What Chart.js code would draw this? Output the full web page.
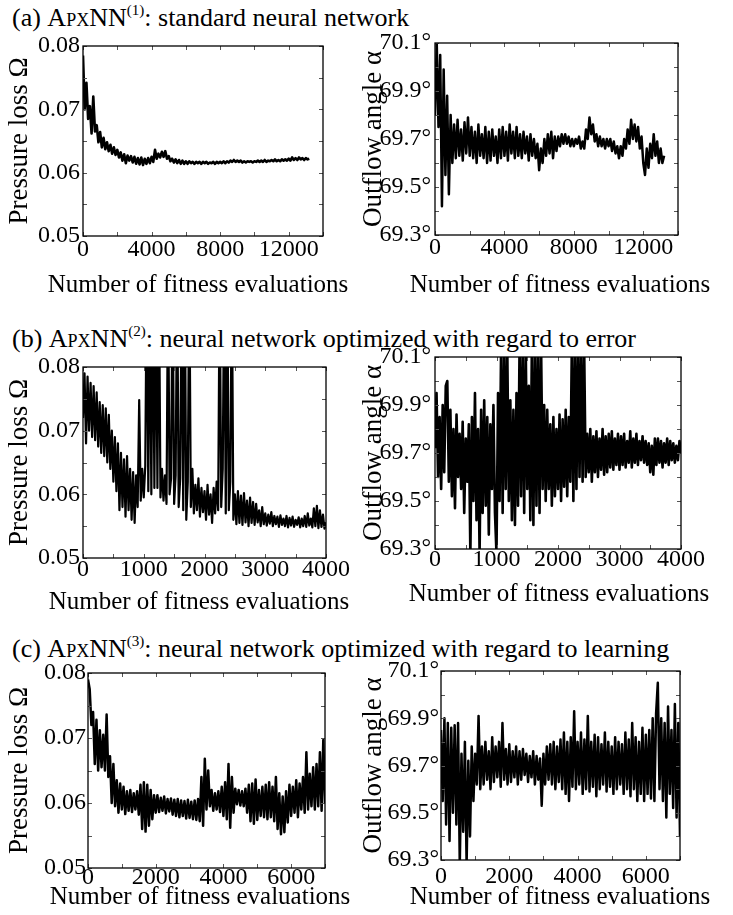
<!DOCTYPE html>
<html>
<head>
<meta charset="utf-8">
<script src="https://cdn.jsdelivr.net/npm/chart.js@4.4.0/dist/chart.umd.min.js"></script>
<style>
  html, body { margin: 0; padding: 0; background: #fff; }
  body { width: 733px; height: 915px; position: relative; overflow: hidden; font-family: 'Liberation Serif', serif; color: #000; }
  .row-title { position: absolute; left: 12px; font-size: 26px; line-height: 24px; white-space: nowrap; }
  .sc { font-variant: small-caps; }
  .sup { font-size: 0.58em; position: relative; top: -0.7em; }
  canvas { position: absolute; }
</style>
</head>
<body>
<div class="row-title" style="top:6px">(a) <span class="sc">ApxNN</span><span class="sup">(1)</span>: standard neural network</div>
<div class="row-title" style="top:327px">(b) <span class="sc">ApxNN</span><span class="sup">(2)</span>: neural network optimized with regard to error</div>
<div class="row-title" style="top:637px">(c) <span class="sc">ApxNN</span><span class="sup">(3)</span>: neural network optimized with regard to learning</div>

<canvas id="lossA"></canvas>
<canvas id="angleA"></canvas>
<canvas id="lossB"></canvas>
<canvas id="angleB"></canvas>
<canvas id="lossC"></canvas>
<canvas id="angleC"></canvas>

<script>
// sampling interval (fitness evaluations) of each run
const stepA = 100;
const stepB = 25;
const stepC = 50;

// (a) standard network
const lossA = [
  0.0785, 0.0700, 0.0742, 0.0685, 0.0705, 0.0662, 0.0720, 0.0665, 0.0675, 0.0648,
  0.0664, 0.0640, 0.0655, 0.0637, 0.0648, 0.0634, 0.0644, 0.0630, 0.0640, 0.0628,
  0.0636, 0.0624, 0.0632, 0.0619, 0.0629, 0.0615, 0.0627, 0.0619, 0.0626, 0.0616,
  0.0625, 0.0614, 0.0623, 0.0613, 0.0624, 0.0612, 0.0622, 0.0614, 0.0623, 0.0615,
  0.0625, 0.0617, 0.0636, 0.0622, 0.0630, 0.0624, 0.0633, 0.0625, 0.0634, 0.0622,
  0.0626, 0.0618, 0.0622, 0.0616, 0.0621, 0.0615, 0.0620, 0.0614, 0.0619, 0.0614,
  0.0618, 0.0614, 0.0618, 0.0615, 0.0617, 0.0614, 0.0617, 0.0615, 0.0617, 0.0614,
  0.0617, 0.0615, 0.0617, 0.0614, 0.0616, 0.0615, 0.0617, 0.0614, 0.0617, 0.0615,
  0.0617, 0.0615, 0.0618, 0.0615, 0.0618, 0.0616, 0.0619, 0.0617, 0.0620, 0.0617,
  0.0619, 0.0617, 0.0619, 0.0616, 0.0618, 0.0616, 0.0618, 0.0617, 0.0618, 0.0616,
  0.0618, 0.0617, 0.0619, 0.0617, 0.0619, 0.0617, 0.0620, 0.0617, 0.0619, 0.0618,
  0.0620, 0.0618, 0.0621, 0.0618, 0.0620, 0.0618, 0.0621, 0.0619, 0.0621, 0.0619,
  0.0622, 0.0619, 0.0624, 0.0620, 0.0623, 0.0620, 0.0624, 0.0621, 0.0623, 0.0620,
  0.0623, 0.0621, 0.0622
];
const angleA = [
  69.80, 70.10, 69.75, 70.05, 69.42, 69.99, 69.55, 69.88, 69.47, 69.80,
  69.60, 69.76, 69.62, 69.78, 69.63, 69.74, 69.61, 69.77, 69.64, 69.79,
  69.63, 69.75, 69.62, 69.73, 69.60, 69.76, 69.63, 69.72, 69.62, 69.75,
  69.60, 69.73, 69.61, 69.74, 69.63, 69.71, 69.60, 69.74, 69.62, 69.75,
  69.63, 69.73, 69.61, 69.76, 69.64, 69.73, 69.62, 69.75, 69.63, 69.72,
  69.62, 69.73, 69.64, 69.71, 69.61, 69.72, 69.63, 69.70, 69.62, 69.68,
  69.57, 69.66, 69.60, 69.70, 69.63, 69.72, 69.64, 69.73, 69.62, 69.71,
  69.65, 69.71, 69.67, 69.72, 69.68, 69.72, 69.68, 69.71, 69.67, 69.70,
  69.67, 69.70, 69.68, 69.71, 69.66, 69.69, 69.66, 69.74, 69.70, 69.79,
  69.72, 69.76, 69.69, 69.72, 69.67, 69.71, 69.67, 69.70, 69.66, 69.70,
  69.67, 69.70, 69.65, 69.69, 69.64, 69.67, 69.62, 69.67, 69.63, 69.70,
  69.66, 69.74, 69.68, 69.78, 69.70, 69.76, 69.69, 69.75, 69.66, 69.71,
  69.60, 69.55, 69.66, 69.58, 69.68, 69.62, 69.72, 69.63, 69.69, 69.60,
  69.66, 69.60, 69.63
];

// (b) optimized with regard to error
const lossB = [
  0.0720, 0.0790, 0.0680, 0.0785, 0.0700, 0.0775, 0.0690, 0.0770,
  0.0685, 0.0760, 0.0675, 0.0745, 0.0665, 0.0740, 0.0660, 0.0735,
  0.0650, 0.0725, 0.0640, 0.0700, 0.0620, 0.0690, 0.0605, 0.0680,
  0.0575, 0.0665, 0.0580, 0.0655, 0.0565, 0.0660, 0.0575, 0.0640,
  0.0560, 0.0635, 0.0555, 0.0630, 0.0580, 0.0748, 0.0590, 0.0640,
  0.0595, 0.0645, 0.0950, 0.0605, 0.0950, 0.0600, 0.0950, 0.0610,
  0.0950, 0.0610, 0.0950, 0.0595, 0.0640, 0.0590, 0.0630, 0.0585,
  0.0950, 0.0600, 0.0625, 0.0950, 0.0585, 0.0630, 0.0950, 0.0580,
  0.0625, 0.0950, 0.0575, 0.0950, 0.0560, 0.0620, 0.0950, 0.0580,
  0.0640, 0.0570, 0.0615, 0.0575, 0.0625, 0.0565, 0.0610, 0.0572,
  0.0605, 0.0560, 0.0615, 0.0568, 0.0600, 0.0555, 0.0610, 0.0570,
  0.0620, 0.0575, 0.0950, 0.0580, 0.0640, 0.0950, 0.0570, 0.0950,
  0.0575, 0.0620, 0.0950, 0.0560, 0.0600, 0.0553, 0.0605, 0.0555,
  0.0598, 0.0552, 0.0602, 0.0556, 0.0590, 0.0550, 0.0595, 0.0555,
  0.0588, 0.0552, 0.0585, 0.0556, 0.0575, 0.0550, 0.0580, 0.0553,
  0.0570, 0.0551, 0.0568, 0.0554, 0.0572, 0.0550, 0.0566, 0.0553,
  0.0565, 0.0549, 0.0567, 0.0552, 0.0562, 0.0550, 0.0566, 0.0548,
  0.0563, 0.0551, 0.0565, 0.0549, 0.0560, 0.0552, 0.0564, 0.0548,
  0.0562, 0.0550, 0.0566, 0.0549, 0.0570, 0.0551, 0.0562, 0.0548,
  0.0578, 0.0550, 0.0582, 0.0547, 0.0575, 0.0549, 0.0568, 0.0546,
  0.0556
];
const angleB = [
  69.72, 69.95, 69.60, 69.85, 69.55, 69.90, 69.62, 69.98,
  70.00, 69.58, 69.88, 69.52, 69.80, 69.47, 69.86, 69.60,
  69.78, 69.55, 69.83, 69.45, 69.76, 69.58, 69.82, 69.28,
  69.85, 69.50, 69.95, 69.42, 69.80, 69.28, 69.88, 69.45,
  69.92, 69.48, 69.85, 69.36, 69.82, 69.55, 69.90, 69.45,
  69.28, 69.95, 69.50, 70.15, 69.45, 70.15, 69.55, 70.15,
  69.50, 69.92, 69.42, 69.88, 69.40, 69.95, 69.48, 70.15,
  69.52, 70.15, 69.45, 70.15, 69.55, 69.98, 69.42, 70.15,
  69.40, 70.15, 69.48, 70.15, 69.45, 70.15, 69.55, 69.90,
  69.50, 69.88, 69.55, 69.82, 69.48, 69.85, 69.52, 69.80,
  69.55, 69.86, 69.50, 69.84, 69.56, 69.88, 69.52, 69.85,
  69.58, 70.15, 69.50, 70.15, 69.55, 70.15, 69.60, 70.15,
  69.58, 70.15, 69.60, 69.78, 69.62, 69.80, 69.58, 69.77,
  69.62, 69.79, 69.60, 69.76, 69.63, 69.80, 69.61, 69.77,
  69.62, 69.78, 69.64, 69.79, 69.63, 69.76, 69.65, 69.78,
  69.63, 69.77, 69.65, 69.78, 69.64, 69.75, 69.66, 69.79,
  69.64, 69.76, 69.66, 69.78, 69.65, 69.75, 69.67, 69.77,
  69.66, 69.75, 69.65, 69.74, 69.62, 69.73, 69.61, 69.76,
  69.65, 69.76, 69.66, 69.75, 69.64, 69.74, 69.66, 69.76,
  69.65, 69.75, 69.67, 69.74, 69.66, 69.73, 69.67, 69.75,
  69.70
];

// (c) optimized with regard to learning
const lossC = [
  0.0790, 0.0775, 0.0720, 0.0740, 0.0660, 0.0728, 0.0650, 0.0712,
  0.0655, 0.0705, 0.0650, 0.0736, 0.0640, 0.0672, 0.0600, 0.0660,
  0.0595, 0.0635, 0.0585, 0.0630, 0.0590, 0.0625, 0.0583, 0.0618,
  0.0588, 0.0620, 0.0586, 0.0615, 0.0590, 0.0618, 0.0582, 0.0628,
  0.0560, 0.0632, 0.0556, 0.0628, 0.0565, 0.0620, 0.0575, 0.0612,
  0.0585, 0.0612, 0.0586, 0.0608, 0.0588, 0.0610, 0.0584, 0.0606,
  0.0587, 0.0607, 0.0582, 0.0605, 0.0580, 0.0606, 0.0578, 0.0604,
  0.0580, 0.0603, 0.0576, 0.0605, 0.0577, 0.0602, 0.0575, 0.0604,
  0.0574, 0.0606, 0.0572, 0.0640, 0.0565, 0.0668, 0.0590, 0.0650,
  0.0595, 0.0620, 0.0588, 0.0615, 0.0590, 0.0618, 0.0586, 0.0625,
  0.0580, 0.0632, 0.0575, 0.0660, 0.0562, 0.0640, 0.0585, 0.0622,
  0.0598, 0.0620, 0.0596, 0.0618, 0.0595, 0.0622, 0.0585, 0.0628,
  0.0572, 0.0630, 0.0568, 0.0636, 0.0574, 0.0620, 0.0580, 0.0625,
  0.0578, 0.0628, 0.0575, 0.0632, 0.0578, 0.0625, 0.0572, 0.0640,
  0.0560, 0.0615, 0.0552, 0.0610, 0.0555, 0.0618, 0.0570, 0.0628,
  0.0580, 0.0625, 0.0585, 0.0635, 0.0578, 0.0630, 0.0590, 0.0640,
  0.0585, 0.0678, 0.0590, 0.0645, 0.0595, 0.0655, 0.0590, 0.0660,
  0.0595, 0.0678, 0.0588, 0.0697, 0.0600
];
const angleC = [
  69.85, 69.55, 69.90, 69.45, 69.88, 69.38, 69.86, 69.50,
  69.87, 69.45, 69.88, 69.28, 69.75, 69.42, 69.80, 69.28,
  69.72, 69.40, 69.78, 69.55, 69.75, 69.62, 69.91, 69.60,
  69.78, 69.62, 69.80, 69.64, 69.76, 69.60, 69.82, 69.63,
  69.78, 69.65, 69.80, 69.61, 69.88, 69.64, 69.77, 69.62,
  69.79, 69.63, 69.76, 69.65, 69.78, 69.62, 69.76, 69.64,
  69.77, 69.66, 69.75, 69.63, 69.74, 69.65, 69.76, 69.62,
  69.74, 69.64, 69.73, 69.53, 69.75, 69.62, 69.78, 69.64,
  69.79, 69.62, 69.80, 69.60, 69.78, 69.63, 69.81, 69.60,
  69.84, 69.58, 69.80, 69.55, 69.82, 69.61, 69.93, 69.60,
  69.80, 69.62, 69.84, 69.58, 69.81, 69.60, 69.91, 69.59,
  69.80, 69.61, 69.83, 69.57, 69.82, 69.60, 69.79, 69.62,
  69.84, 69.59, 69.80, 69.61, 69.78, 69.58, 69.82, 69.60,
  69.80, 69.62, 69.79, 69.58, 69.84, 69.60, 69.81, 69.57,
  69.88, 69.60, 69.82, 69.55, 69.80, 69.58, 69.86, 69.55,
  69.83, 69.58, 69.85, 69.56, 69.90, 69.55, 69.92, 70.05,
  69.60, 69.90, 69.55, 69.88, 69.48, 69.95, 69.58, 69.85,
  69.52, 69.96, 69.48, 69.88, 69.40
];

// labelled ticks
const lossLabels = [0.05, 0.06, 0.07, 0.08];
const angleLabels = [69.3, 69.5, 69.7, 69.9, 70.1];
const evalLabelsA = [0, 4000, 8000, 12000];
const evalLabelsB = [0, 1000, 2000, 3000, 4000];
const evalLabelsC = [0, 2000, 4000, 6000];

const FONT = "'Liberation Serif', 'Times New Roman', serif";
Chart.defaults.font.family = FONT;
Chart.defaults.color = '#000';

const toPoints = (values, step) => values.map((v, i) => ({ x: i * step, y: v }));
const hasLabel = (list, v) => list.some(t => Math.abs(t - v) < 1e-9);

// matlab style box with inward ticks on all four sides, plus the x caption
// (drawn here so it is not squeezed to the plot width)
const framePlugin = {
    id: 'frame',
    afterDraw(chart, args, opts) {
        const { ctx, chartArea: a, scales } = chart;
        const len = 4;
        ctx.save();
        ctx.strokeStyle = '#555';
        ctx.lineWidth = 1;
        ctx.beginPath();
        scales.x.ticks.forEach(t => {
            const px = Math.round(scales.x.getPixelForValue(t.value)) + 0.5;
            ctx.moveTo(px, a.bottom); ctx.lineTo(px, a.bottom - len);
            ctx.moveTo(px, a.top); ctx.lineTo(px, a.top + len);
        });
        scales.y.ticks.forEach(t => {
            const py = Math.round(scales.y.getPixelForValue(t.value)) + 0.5;
            ctx.moveTo(a.left, py); ctx.lineTo(a.left + len, py);
            ctx.moveTo(a.right, py); ctx.lineTo(a.right - len, py);
        });
        ctx.stroke();
        ctx.strokeStyle = '#000';
        ctx.lineWidth = 1.3;
        ctx.strokeRect(a.left, a.top, a.right - a.left, a.bottom - a.top);

        ctx.fillStyle = '#000';
        ctx.font = '25px ' + FONT;
        ctx.textAlign = 'center';
        ctx.textBaseline = 'middle';
        ctx.fillText(opts.text, opts.x, opts.y);
        ctx.restore();
    }
};

function panel(id, o) {
    const padTop = 20, padRight = 38;
    const canvas = document.getElementById(id);
    const left = o.box[0] - o.yAxisWidth;
    const top = o.box[1] - padTop;
    const bottom = o.xTitleY + 18;
    canvas.width = o.box[2] - left + padRight;
    canvas.height = bottom - top;
    canvas.style.left = left + 'px';
    canvas.style.top = top + 'px';

    new Chart(canvas, {
        type: 'line',
        data: {
            datasets: [{
                data: toPoints(o.values, o.step),
                borderColor: '#000',
                borderWidth: o.lineWidth,
                borderJoinStyle: 'round',
                pointRadius: 0,
                tension: 0,
                fill: false,
                clip: 0
            }]
        },
        options: {
            responsive: false,
            animation: false,
            events: [],
            layout: { padding: { top: padTop, right: padRight, left: 0, bottom: 0 } },
            plugins: {
                legend: { display: false },
                tooltip: { enabled: false },
                frame: { text: 'Number of fitness evaluations', x: o.xTitleX - left, y: o.xTitleY - top }
            },
            scales: {
                x: {
                    type: 'linear',
                    min: 0,
                    max: o.xMax,
                    afterFit: s => { s.height = bottom - o.box[3]; },
                    grid: { display: false, drawTicks: false },
                    border: { display: false },
                    ticks: {
                        stepSize: o.xStep,
                        autoSkip: false,
                        maxRotation: 0,
                        padding: o.xPad,
                        font: { size: 24, lineHeight: 1 },
                        callback: v => hasLabel(o.xLabels, v) ? String(v) : ''
                    }
                },
                y: {
                    min: o.yMin,
                    max: o.yMax,
                    afterFit: s => { s.width = o.yAxisWidth; },
                    grid: { display: false, drawTicks: false },
                    border: { display: false },
                    ticks: {
                        stepSize: o.yStep,
                        autoSkip: false,
                        padding: o.yPad,
                        font: { size: 24, lineHeight: 1 },
                        callback: v => hasLabel(o.yLabels, v) ? o.fmt(v) : ''
                    },
                    title: {
                        display: true,
                        text: o.yTitle,
                        font: { size: 27, lineHeight: 1 },
                        padding: { top: o.yTitleX - left - 13.5, bottom: 0 }
                    }
                }
            }
        },
        plugins: [framePlugin]
    });
}

const lossAxis = { yMin: 0.05, yMax: 0.08, yStep: 0.005, yLabels: lossLabels, fmt: v => v.toFixed(2), yTitle: 'Pressure loss Ω', yTitleX: 20 };
const angleAxis = { yMin: 69.3, yMax: 70.1, yStep: 0.1, yLabels: angleLabels, fmt: v => v.toFixed(1) + '°', yTitle: 'Outflow angle α', yTitleX: 374 };

panel('lossA', { ...lossAxis, values: lossA, step: stepA, lineWidth: 2.6, box: [83, 46, 323, 236], yAxisWidth: 83, xMax: 14000, xStep: 2000, xLabels: evalLabelsA, xTitleX: 198, xTitleY: 285, xPad: 2, yPad: 3 });
panel('angleA', { ...angleAxis, values: angleA, step: stepA, lineWidth: 2.5, box: [435, 43, 678, 235], yAxisWidth: 83, xMax: 14000, xStep: 2000, xLabels: evalLabelsA, xTitleX: 560, xTitleY: 285, xPad: 1, yPad: 4 });
panel('lossB', { ...lossAxis, values: lossB, step: stepB, lineWidth: 2.2, box: [83, 367, 326, 558], yAxisWidth: 83, xMax: 4000, xStep: 500, xLabels: evalLabelsB, xTitleX: 199, xTitleY: 602, xPad: 0, yPad: 3 });
panel('angleB', { ...angleAxis, values: angleB, step: stepB, lineWidth: 2.6, box: [435, 357, 681, 549], yAxisWidth: 83, xMax: 4000, xStep: 500, xLabels: evalLabelsB, xTitleX: 559, xTitleY: 594, xPad: -1, yPad: 4 });
panel('lossC', { ...lossAxis, values: lossC, step: stepC, lineWidth: 2.5, box: [88, 673, 325, 868], yAxisWidth: 88, xMax: 7000, xStep: 1000, xLabels: evalLabelsC, xTitleX: 200, xTitleY: 897, xPad: -2, yPad: 2 });
panel('angleC', { ...angleAxis, values: angleC, step: stepC, lineWidth: 2.5, box: [441, 671, 680, 860], yAxisWidth: 89, xMax: 7000, xStep: 1000, xLabels: evalLabelsC, xTitleX: 560, xTitleY: 897, xPad: 5, yPad: 2 });
</script>
</body>
</html>
